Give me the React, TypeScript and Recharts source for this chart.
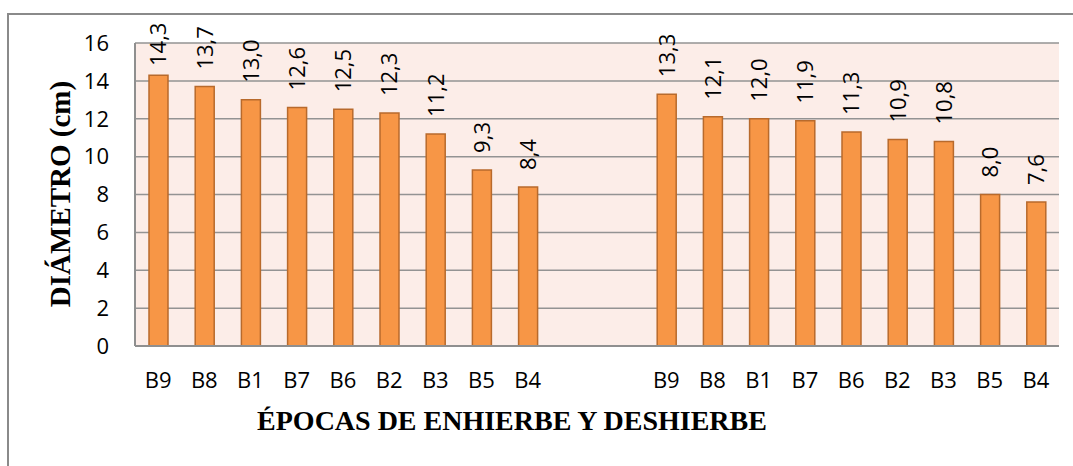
import React from "react";
import { BarChart, Bar, XAxis, YAxis, CartesianGrid, LabelList, Label } from "recharts";

// valores
const GROUP_1 = ["B9", "B8", "B1", "B7", "B6", "B2", "B3", "B5", "B4"];
const VALUES_1 = [14.3, 13.7, 13.0, 12.6, 12.5, 12.3, 11.2, 9.3, 8.4];
const GROUP_2 = ["B9", "B8", "B1", "B7", "B6", "B2", "B3", "B5", "B4"];
const VALUES_2 = [13.3, 12.1, 12.0, 11.9, 11.3, 10.9, 10.8, 8.0, 7.6];
const GAP_SLOTS = 2;
const Y_TICKS = [0, 2, 4, 6, 8, 10, 12, 14, 16];

const X_TITLE = "ÉPOCAS DE ENHIERBE Y DESHIERBE";
const Y_TITLE = "DIÁMETRO (cm)";

const data = [
  ...GROUP_1.map((name, i) => ({ id: `a${i}`, name, value: VALUES_1[i] })),
  ...Array.from({ length: GAP_SLOTS }, (_, i) => ({ id: `gap${i}`, name: "", value: null as number | null })),
  ...GROUP_2.map((name, i) => ({ id: `b${i}`, name, value: VALUES_2[i] })),
];
const nameById: Record<string, string> = Object.fromEntries(data.map((d) => [d.id, d.name]));

const TICK_FONT = "'Open Sans', Lato, sans-serif";
const TITLE_FONT = "'Liberation Serif', 'DejaVu Serif', serif";

const fmt = (v: number) => v.toFixed(1).replace(".", ",");

const BarValueLabel = (props: any) => {
  const { value } = props;
  if (value == null) return null;
  const x = props.x ?? props.viewBox?.x;
  const y = props.y ?? props.viewBox?.y;
  const width = props.width ?? props.viewBox?.width;
  const cx = Number(x) + Number(width) / 2;
  // Excel pushes the tallest label down so it stays inside the chart area
  const ty = Math.max(Number(y) - 17, 66);
  return (
    <text
      x={cx}
      y={ty}
      dy="0.36em"
      transform={`rotate(-90 ${cx} ${ty})`}
      textAnchor="start"
      fontFamily={TICK_FONT}
      fontSize={22}
      fill="#000"
    >
      {fmt(Number(value))}
    </text>
  );
};

export default function App() {
  return (
    <div style={{ position: "absolute", left: 0, top: 0, width: 1073, height: 466, overflow: "hidden", background: "#fff" }}>
      <div
        style={{
          position: "absolute",
          left: 7,
          top: 13,
          width: 1100,
          height: 500,
          border: "2px solid #8a8a8a",
        }}
      />
      <div style={{ position: "absolute", left: 0, top: 0 }}>
        <BarChart
          width={1073}
          height={466}
          data={data}
          margin={{ top: 43, right: 14, left: 75, bottom: 60 }}
        >
          <CartesianGrid
            vertical={false}
            stroke="#939393"
            strokeWidth={1.5}
            fill="#fcede8"
            fillOpacity={1}
          />
          <XAxis
            dataKey="id"
            height={60}
            tickFormatter={(id: string) => nameById[id] ?? ""}
            interval={0}
            tickLine={false}
            tickSize={0}
            tickMargin={26}
            axisLine={{ stroke: "#8f8f8f", strokeWidth: 2 }}
            tick={{ fill: "#000", fontSize: 22, fontFamily: TICK_FONT }}
          >
            <Label
              content={() => (
                <text
                  x={512}
                  y={430}
                  textAnchor="middle"
                  fontFamily={TITLE_FONT}
                  fontWeight="bold"
                  fontSize={28}
                  fill="#000"
                >
                  {X_TITLE}
                </text>
              )}
            />
          </XAxis>
          <YAxis
            width={60}
            domain={[0, 16]}
            ticks={Y_TICKS}
            interval={0}
            tickLine={false}
            tickSize={0}
            tickMargin={26}
            axisLine={{ stroke: "#8f8f8f", strokeWidth: 2 }}
            tick={{ fill: "#000", fontSize: 22, fontFamily: TICK_FONT }}
          >
            <Label
              content={() => (
                <text
                  x={70}
                  y={194}
                  transform="rotate(-90 70 194)"
                  textAnchor="middle"
                  fontFamily={TITLE_FONT}
                  fontWeight="bold"
                  fontSize={29}
                  fill="#000"
                >
                  {Y_TITLE}
                </text>
              )}
            />
          </YAxis>
          <Bar
            dataKey="value"
            barSize={19}
            fill="#f79646"
            stroke="#b86a2c"
            strokeWidth={1.5}
            isAnimationActive={false}
          >
            <LabelList dataKey="value" content={<BarValueLabel />} />
          </Bar>
        </BarChart>
      </div>
    </div>
  );
}
